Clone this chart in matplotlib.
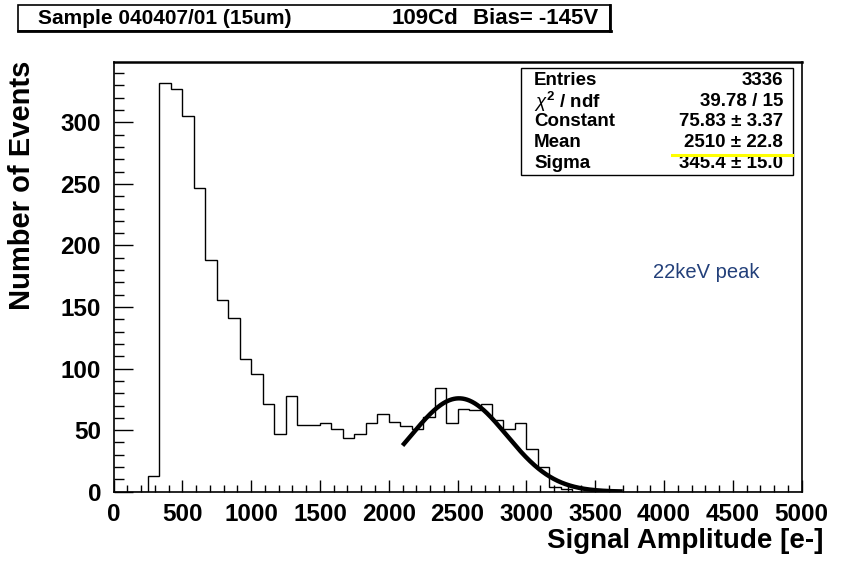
import numpy as np
import matplotlib
matplotlib.use("Agg")
import matplotlib.pyplot as plt
from matplotlib.patches import Rectangle
from matplotlib.ticker import MultipleLocator
from matplotlib.lines import Line2D

# ---------------- data ----------------
x_min, x_max, n_bins = 0, 5000, 60
counts = [0, 0, 0, 13, 332, 327, 305, 247, 188, 156,
          141, 108, 96, 71, 47, 78, 54, 54, 56, 51,
          44, 47, 56, 63, 57, 53, 51, 61, 84, 56,
          67, 66, 71, 58, 51, 56, 35, 20, 4, 2,
          0, 0, 0, 0, 0, 0, 0, 0, 0, 0,
          0, 0, 0, 0, 0, 0, 0, 0, 0, 0]
fit_constant, fit_mean, fit_sigma = 75.83, 2510.0, 345.4
fit_range = (2100, 3700)
stat_labels = ["Entries", r"$\chi^{2}$ / ndf", "Constant", "Mean", "Sigma"]
stat_values = ["3336", "39.78 / 15", "75.83 \u00b1 3.37", "2510 \u00b1 22.8", "345.4 \u00b1 15.0"]
x_ticks = [0, 500, 1000, 1500, 2000, 2500, 3000, 3500, 4000, 4500, 5000]
y_ticks = [0, 50, 100, 150, 200, 250, 300]
title_left = "Sample 040407/01 (15um)"
title_mid = "109Cd"
title_right = "Bias= -145V"
x_title = "Signal Amplitude [e-]"
y_title = "Number of Events"
annotation = "22keV peak"

# ---------------- figure ----------------
W, H = 843, 564
plt.rcParams['font.family'] = ['Liberation Sans', 'DejaVu Sans']
plt.rcParams['mathtext.fontset'] = 'custom'
plt.rcParams['mathtext.rm'] = 'Liberation Sans:bold'
plt.rcParams['mathtext.it'] = 'Liberation Sans:italic'
fig = plt.figure(figsize=(W / 100, H / 100), dpi=100)
fig.patch.set_facecolor('white')

def fx(px):
    return px / W

def fy(py):
    return 1 - py / H

ax_l, ax_r, ax_t, ax_b = 113.5, 801.7, 62.0, 491.7
ax = fig.add_axes([fx(ax_l), fy(ax_b), fx(ax_r - ax_l), (ax_b - ax_t) / H])

edges = np.linspace(x_min, x_max, n_bins + 1)
ax.stairs(counts, edges, color='black', lw=1.0, baseline=0)

xf = np.linspace(fit_range[0], fit_range[1], 400)
yf = fit_constant * np.exp(-0.5 * ((xf - fit_mean) / fit_sigma) ** 2)
ax.plot(xf, yf, color='black', lw=3.2, solid_capstyle='butt')

ax.set_xlim(x_min, x_max)
ax.set_ylim(0, 349)
ax.set_xticks(x_ticks)
ax.set_yticks(y_ticks)
ax.xaxis.set_minor_locator(MultipleLocator(100))
ax.yaxis.set_minor_locator(MultipleLocator(10))
ax.tick_params(axis='x', which='major', direction='in', length=8.6, width=1.0,
               labelsize=17.5, pad=8, top=False)
ax.tick_params(axis='x', which='minor', direction='in', length=4.8, width=1.0, top=False)
ax.tick_params(axis='y', which='major', direction='in', length=13.7, width=1.0,
               labelsize=17.5, pad=9, right=False)
ax.tick_params(axis='y', which='minor', direction='in', length=7.2, width=1.0, right=False)
for lab in ax.get_xticklabels() + ax.get_yticklabels():
    lab.set_fontweight('bold')
for side in ['left', 'bottom', 'right']:
    ax.spines[side].set_linewidth(1.2)
ax.spines['top'].set_linewidth(1.8)

# axis titles
fig.text(fx(823), fy(541.5), x_title, ha='right', va='center', fontsize=20,
         fontweight='bold')
fig.text(fx(22), fy(61), y_title, ha='center', va='top', rotation=90,
         fontsize=21, fontweight='bold')

# title box
tb_l, tb_r, tb_t, tb_b = 18, 610, 5, 31
fig.patches.append(Rectangle((fx(tb_l), fy(tb_b)), fx(tb_r - tb_l), (tb_b - tb_t) / H,
                             transform=fig.transFigure, fill=False,
                             edgecolor='black', lw=1.2))
fig.add_artist(Line2D([fx(tb_l), fx(tb_r + 1)], [fy(tb_b), fy(tb_b)],
                      transform=fig.transFigure, color='black', lw=2))
fig.add_artist(Line2D([fx(tb_r), fx(tb_r)], [fy(tb_b), fy(tb_t)],
                      transform=fig.transFigure, color='black', lw=2))
fig.text(fx(38), fy(18), title_left, ha='left', va='center', fontsize=15, fontweight='bold')
fig.text(fx(392), fy(18), title_mid, ha='left', va='center', fontsize=16, fontweight='bold')
fig.text(fx(598), fy(18), title_right, ha='right', va='center', fontsize=16, fontweight='bold')

# stats box
bx_l, bx_r, bx_t, bx_b = 520.7, 793.0, 68.0, 175.0
fig.patches.append(Rectangle((fx(bx_l), fy(bx_b)), fx(bx_r - bx_l), (bx_b - bx_t) / H,
                             transform=fig.transFigure, facecolor='white',
                             edgecolor='black', lw=1.0, zorder=5))
row_y = [80.5, 101.5, 122, 142.5, 164]
for lab, val, yy in zip(stat_labels, stat_values, row_y):
    fig.text(fx(534), fy(yy), lab, ha='left', va='center', fontsize=13.5,
             fontweight='bold', zorder=6)
    fig.text(fx(783), fy(yy), val, ha='right', va='center', fontsize=13.5,
             fontweight='bold', zorder=6)
fig.add_artist(Line2D([fx(672), fx(792)], [fy(154.5), fy(154.5)], transform=fig.transFigure,
                      color='#ffff00', lw=2.2, zorder=7))

# annotation
fig.text(fx(653), fy(273), annotation, ha='left', va='center', fontsize=14.5,
         color='#23407a')

fig.savefig('out.png', dpi=100, facecolor='white')
